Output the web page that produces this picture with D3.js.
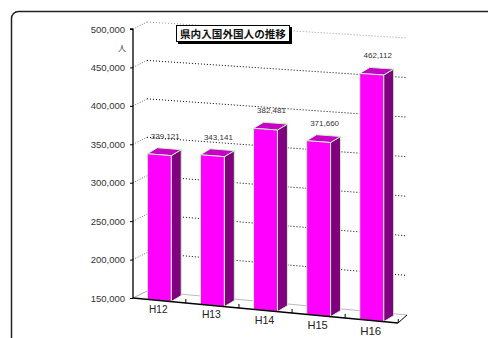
<!DOCTYPE html>
<html><head><meta charset="utf-8">
<script src="https://cdn.jsdelivr.net/npm/d3@7/dist/d3.min.js"></script>
<style>body{margin:0;background:#fff}svg{display:block}</style>
</head><body>
<svg id="c" width="488" height="338"></svg>
<script>
const categories = ["H12","H13","H14","H15","H16"];
const values = [339121, 343141, 382481, 371660, 462112];
const tickValues = [150000,200000,250000,300000,350000,400000,450000,500000];
const title = "県内入国外国人の推移";
const unit = "人";

const svg = d3.select("#c");
// frame
svg.append("rect").attr("x",11.5).attr("y",11.5).attr("width",500).attr("height",400)
  .attr("rx",7).attr("fill","#fff").attr("stroke","#222").attr("stroke-width",1.5);

const x0 = 133, x1 = 398;
const xBand = d3.scaleBand().domain(categories).range([x0,x1]).paddingInner(0.55).paddingOuter(0.27);
const tScale = d3.scaleLinear().domain([150000,500000]).range([0,1]);
const frontBase = d3.scaleLinear().domain([x0,x1]).range([298,323]);
const frontH = d3.scaleLinear().domain([x0,x1]).range([269,277]);
const wallDx = d3.scaleLinear().domain([x0,x1]).range([14,9]);
const wallDy = d3.scaleLinear().domain([x0,x1]).range([-7,-8]);
const yAxisScale = d3.scaleLinear().domain([150000,500000]).range([298,29]);

function front(x,v){ return [x, frontBase(x) - tScale(v)*frontH(x)]; }
function back(x,v){ const p=front(x,v); return [p[0]+wallDx(x), p[1]+wallDy(x)]; }

// back wall gridlines
tickValues.forEach((v,i)=>{
  const a = back(x0,v), b = back(x1,v), f = front(x0,v);
  const top = i===tickValues.length-1, bottom = i===0;
  if(!bottom){
    svg.append("line").attr("x1",a[0]).attr("y1",a[1]).attr("x2",b[0]).attr("y2",b[1])
      .attr("stroke", top?"#999":"#000").attr("stroke-width",1).attr("stroke-dasharray","1,2");
  } else {
    svg.append("line").attr("x1",a[0]).attr("y1",a[1]).attr("x2",b[0]).attr("y2",b[1])
      .attr("stroke","#bbb").attr("stroke-width",1);
  }
  svg.append("line").attr("x1",f[0]).attr("y1",f[1]).attr("x2",a[0]).attr("y2",a[1])
    .attr("stroke", bottom?"#aaa":"#777").attr("stroke-width",1).attr("stroke-dasharray", bottom?null:"1,1.5");
});

// floor ticks
const bounds = categories.map(c=>xBand(c)+xBand.bandwidth()+xBand.step()*xBand.paddingInner()/2);
bounds.forEach(bx=>{
  const p = front(bx,150000);
  svg.append("line").attr("x1",p[0]).attr("y1",p[1]).attr("x2",p[0]).attr("y2",p[1]-4)
    .attr("stroke","#000").attr("stroke-width",1);
});

// bars
const bd = [10,-6];
categories.forEach((c,i)=>{
  const xl = xBand(c), xr = xl + xBand.bandwidth();
  const v = values[i];
  const fl_b = front(xl,150000), fr_b = front(xr,150000), fl_t = front(xl,v), fr_t = front(xr,v);
  const add = p=>[p[0]+bd[0],p[1]+bd[1]];
  const poly = pts=>pts.map(p=>p.join(",")).join(" ");
  const g = svg.append("g").attr("stroke","#c8f5c0").attr("stroke-width",1).attr("stroke-linejoin","round");
  g.append("polygon").attr("points",poly([fr_b,fr_t,add(fr_t),add(fr_b)])).attr("fill","#800080");
  g.append("polygon").attr("points",poly([fl_t,fr_t,add(fr_t),add(fl_t)])).attr("fill","#C800C8");
  g.append("polygon").attr("points",poly([fl_b,fl_t,fr_t,fr_b])).attr("fill","#FF00FF");
  // value label
  const cx = (xl+xr)/2;
  const lt = add(front(cx,v));
  svg.append("text").attr("x",cx+6).attr("y",lt[1]-10).attr("text-anchor","middle")
    .attr("font-family","Liberation Sans, Arial, sans-serif").attr("font-size",8).attr("fill","#333")
    .text(d3.format(",")(v));
});

// floor edges
{
  const a = front(x0,150000), b = front(x1,150000), bb = back(x1,150000);
  svg.append("line").attr("x1",a[0]).attr("y1",a[1]).attr("x2",b[0]).attr("y2",b[1]).attr("stroke","#000").attr("stroke-width",1.3);
  svg.append("line").attr("x1",b[0]).attr("y1",b[1]).attr("x2",bb[0]).attr("y2",bb[1]).attr("stroke","#000").attr("stroke-width",1);
}

// category labels
const fsScale = d3.scaleLinear().domain([0,categories.length-1]).range([10,11.5]);
categories.forEach((c,i)=>{
  const cx = xBand(c)+xBand.bandwidth()/2 - 1;
  svg.append("text").attr("x",cx).attr("y",frontBase(cx)+12.5+i*0.4).attr("text-anchor","middle")
    .attr("font-family","Liberation Sans, Arial, sans-serif").attr("font-size",fsScale(i)).attr("fill","#222")
    .text(c);
});

// y axis
const ax = svg.append("g").attr("transform",`translate(${x0},0)`)
  .call(d3.axisLeft(yAxisScale).tickValues(tickValues).tickFormat(d3.format(",")).tickSize(3).tickPadding(5));
ax.select(".domain").attr("stroke","#000").attr("stroke-width",1.3).attr("d",`M0,${yAxisScale(500000)}H-3M0,${yAxisScale(500000)}V${yAxisScale(150000)}`);
ax.selectAll("text").attr("font-family","Liberation Sans, Arial, sans-serif").attr("font-size",9.5).attr("fill","#333");
svg.append("text").attr("x",122).attr("y",51).attr("text-anchor","middle")
  .attr("font-family","Noto Sans CJK JP").attr("font-size",8).attr("fill","#333").text(unit);

// title
svg.append("rect").attr("x",178).attr("y",27).attr("width",114).attr("height",17).attr("fill","#000");
svg.append("rect").attr("x",176.5).attr("y",25.5).attr("width",113).attr("height",16).attr("fill","#fff").attr("stroke","#000").attr("stroke-width",1);
svg.append("text").attr("x",233).attr("y",37.5).attr("text-anchor","middle")
  .attr("font-family","Noto Sans CJK JP").attr("font-weight","bold").attr("font-size",10.6).attr("fill","#111")
  .text(title);
</script>
</body></html>
